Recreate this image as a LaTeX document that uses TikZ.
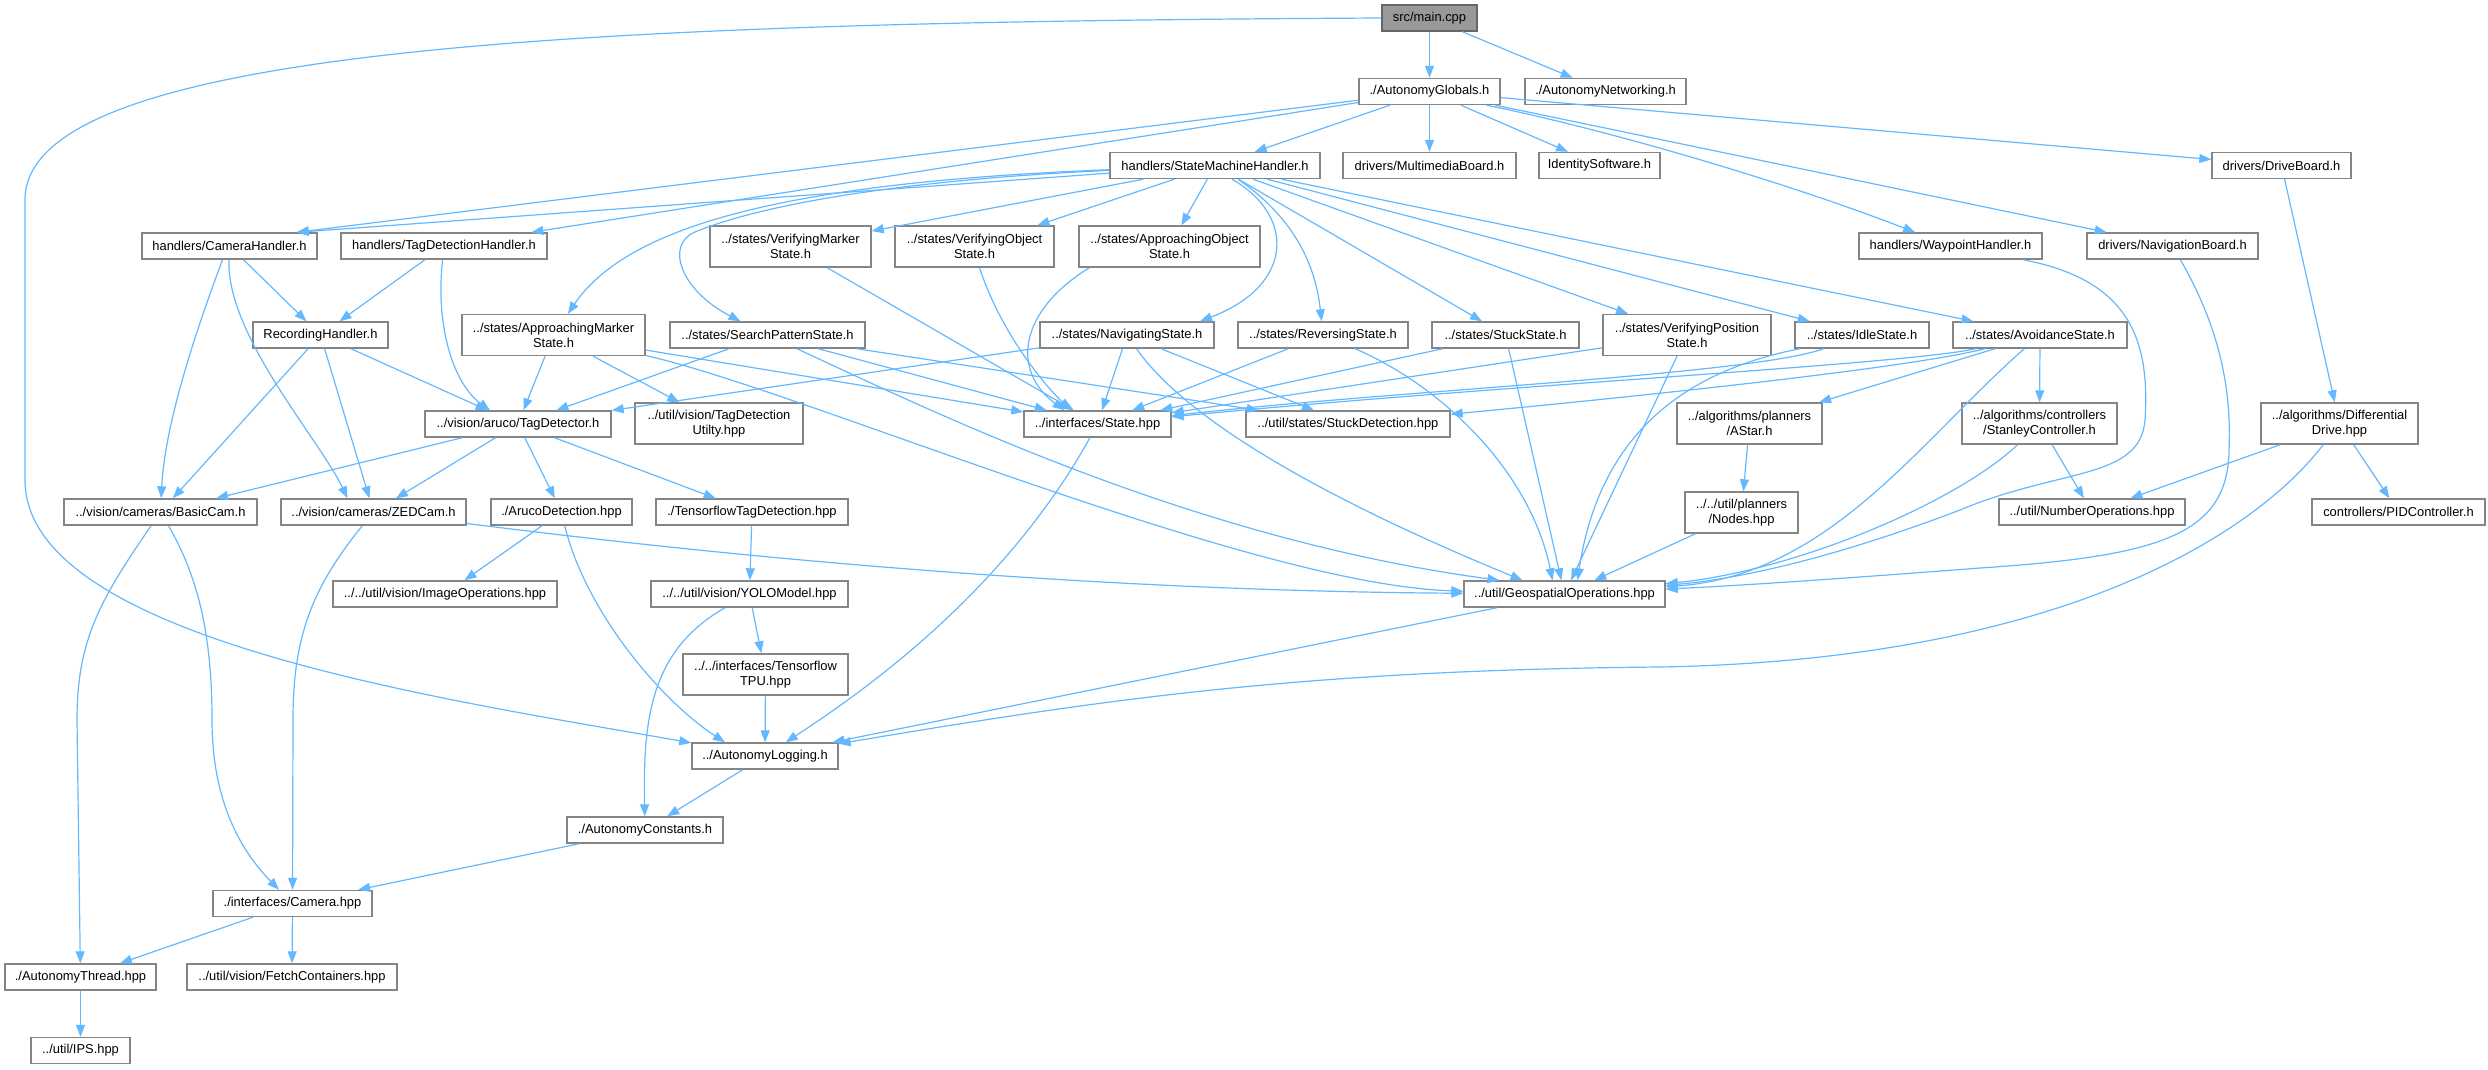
\documentclass[tikz,border=0pt]{standalone}
\usepackage{fontspec}
\setmainfont{Liberation Sans}
\usetikzlibrary{arrows.meta}
\definecolor{edgeblue}{HTML}{63B8FF}
\definecolor{boxgray}{HTML}{858585}
\definecolor{rootfill}{HTML}{999999}
\definecolor{rootline}{HTML}{666666}
\begin{document}
\begin{tikzpicture}[x=1pt,y=-1pt,
    filebox/.style={draw=boxgray,line width=1.4pt,fill=white,inner sep=0pt,minimum height=26pt,align=center,font=\fontsize{12.9pt}{15pt}\selectfont},
    twoline/.style={filebox,minimum height=41pt},
    rootbox/.style={filebox,fill=rootfill,draw=rootline},
    incl/.style={draw=edgeblue,line width=1.2pt,-{Triangle[length=12pt,width=9pt]}}]
        \useasboundingbox (0,0) rectangle (2488,1069);
        \node[rootbox,minimum width=95pt] (main) at (1429.5,18) {src/main.cpp};
        \node[filebox,minimum width=141pt] (glob) at (1429.5,91.5) {./AutonomyGlobals.h};
        \node[filebox,minimum width=161pt] (netw) at (1605.5,91.5) {./AutonomyNetworking.h};
        \node[filebox,minimum width=210pt] (smh) at (1215,165.5) {handlers/StateMachineHandler.h};
        \node[filebox,minimum width=173pt] (mmb) at (1429.5,165.5) {drivers/MultimediaBoard.h};
        \node[filebox,minimum width=121pt] (ids) at (1599.5,165.5) {IdentitySoftware.h};
        \node[filebox,minimum width=139pt] (drvb) at (2281.5,165.5) {drivers/DriveBoard.h};
        \node[filebox,minimum width=175pt] (camh) at (229.5,246) {handlers/CameraHandler.h};
        \node[filebox,minimum width=206pt] (tagh) at (444,246) {handlers/TagDetectionHandler.h};
        \node[twoline,minimum width=161pt] (vmark) at (790.5,246.5) {../states/VerifyingMarker\\State.h};
        \node[twoline,minimum width=159pt] (vobj) at (974.5,246.5) {../states/VerifyingObject\\State.h};
        \node[twoline,minimum width=181pt] (aobj) at (1169.5,246.5) {../states/ApproachingObject\\State.h};
        \node[filebox,minimum width=183pt] (wayh) at (1950.5,246) {handlers/WaypointHandler.h};
        \node[filebox,minimum width=171pt] (navb) at (2172.5,246) {drivers/NavigationBoard.h};
        \node[filebox,minimum width=135pt] (rech) at (320.5,335) {RecordingHandler.h};
        \node[twoline,minimum width=183pt] (amark) at (553.5,335) {../states/ApproachingMarker\\State.h};
        \node[filebox,minimum width=195pt] (srch) at (767.5,335) {../states/SearchPatternState.h};
        \node[filebox,minimum width=174pt] (navs) at (1127,335) {../states/NavigatingState.h};
        \node[filebox,minimum width=170pt] (revs) at (1323,335) {../states/ReversingState.h};
        \node[filebox,minimum width=147pt] (stks) at (1505.5,335) {../states/StuckState.h};
        \node[twoline,minimum width=168pt] (vpos) at (1687,335) {../states/VerifyingPosition\\State.h};
        \node[filebox,minimum width=134pt] (idle) at (1862,335) {../states/IdleState.h};
        \node[filebox,minimum width=174pt] (avoid) at (2040,335) {../states/AvoidanceState.h};
        \node[filebox,minimum width=186pt] (tagd) at (518,424) {../vision/aruco/TagDetector.h};
        \node[twoline,minimum width=168pt] (tdu) at (719,423.5) {../util/vision/TagDetection\\Utilty.hpp};
        \node[filebox,minimum width=147pt] (state) at (1097.5,424) {../interfaces/State.hpp};
        \node[filebox,minimum width=204pt] (stkd) at (1348,424) {../util/states/StuckDetection.hpp};
        \node[twoline,minimum width=145pt] (astar) at (1749.5,423.5) {../algorithms/planners\\/AStar.h};
        \node[twoline,minimum width=155pt] (stan) at (2039.5,423.5) {../algorithms/controllers\\/StanleyController.h};
        \node[twoline,minimum width=157pt] (diff) at (2339.5,423.5) {../algorithms/Differential\\Drive.hpp};
        \node[filebox,minimum width=193pt] (bcam) at (160.5,512) {../vision/cameras/BasicCam.h};
        \node[filebox,minimum width=185pt] (zcam) at (373.5,512) {../vision/cameras/ZEDCam.h};
        \node[filebox,minimum width=141pt] (aruco) at (561.5,512) {./ArucoDetection.hpp};
        \node[filebox,minimum width=192pt] (tftd) at (752,512) {./TensorflowTagDetection.hpp};
        \node[twoline,minimum width=113pt] (nodes) at (1741.5,512.5) {../../util/planners\\/Nodes.hpp};
        \node[filebox,minimum width=186pt] (numo) at (2092,512) {../util/NumberOperations.hpp};
        \node[filebox,minimum width=173pt] (pid) at (2398.5,512) {controllers/PIDController.h};
        \node[filebox,minimum width=224pt] (imgo) at (445,594) {../../util/vision/ImageOperations.hpp};
        \node[filebox,minimum width=197pt] (yolo) at (749.5,594) {../../util/vision/YOLOModel.hpp};
        \node[filebox,minimum width=201pt] (geo) at (1564.5,594) {../util/GeospatialOperations.hpp};
        \node[twoline,minimum width=165pt] (tpu) at (765.5,674.5) {../../interfaces/Tensorflow\\TPU.hpp};
        \node[filebox,minimum width=146pt] (alog) at (765,756) {../AutonomyLogging.h};
        \node[filebox,minimum width=156pt] (acon) at (645,830) {./AutonomyConstants.h};
        \node[filebox,minimum width=159pt] (cam) at (292.5,903.5) {./interfaces/Camera.hpp};
        \node[filebox,minimum width=151pt] (athr) at (80.5,977) {./AutonomyThread.hpp};
        \node[filebox,minimum width=210pt] (fetch) at (292,977) {../util/vision/FetchContainers.hpp};
        \node[filebox,minimum width=99pt] (ips) at (80.5,1050.5) {../util/IPS.hpp};
        \draw[incl] (main) -- (glob);
        \draw[incl] (main) -- (netw);
        \draw[incl] (main.west) .. controls (600,22) and (25,45) .. (25,200) -- (25,480) .. controls (25,640) and (450,700) .. (alog);
        \draw[incl] (glob) -- (smh);
        \draw[incl] (glob) -- (mmb);
        \draw[incl] (glob) -- (ids);
        \draw[incl] (glob) -- (drvb);
        \draw[incl] ([xshift=57pt]glob.south) .. controls (1600,128) and (1780,180) .. (wayh);
        \draw[incl] (glob) -- (navb);
        \draw[incl] (glob) -- ([xshift=-21pt]camh.north east);
        \draw[incl] (glob) -- (tagh);
        \draw[incl] (smh) -- ([xshift=-21pt]camh.north east);
        \draw[incl] (smh) .. controls (800,182) and (630,222) .. (amark);
        \draw[incl] (smh) .. controls (900,180) and (760,205) .. (695,232) .. controls (665,244.5) and (680,290) .. ([xshift=-27pt]srch.north);
        \draw[incl] (smh) -- (vmark);
        \draw[incl] (smh) -- (vobj);
        \draw[incl] (smh) -- (aobj);
        \draw[incl] ([xshift=17pt]smh.south) .. controls (1295,215) and (1295,285) .. ([xshift=73pt]navs.north);
        \draw[incl] ([xshift=23pt]smh.south) .. controls (1290,215) and (1315,260) .. (revs);
        \draw[incl] (smh) -- (stks);
        \draw[incl] (smh) -- (vpos);
        \draw[incl] (smh) -- (idle);
        \draw[incl] (smh) -- (avoid);
        \draw[incl] (camh) -- (rech);
        \draw[incl] ([xshift=-7pt]camh.south) .. controls (200,320) and (165,420) .. (bcam);
        \draw[incl] (camh) .. controls (226,335) and (320,440) .. ([xshift=-26pt]zcam.north);
        \draw[incl] (tagh) -- (rech);
        \draw[incl] (tagh) .. controls (435,330) and (455,385) .. ([xshift=-28pt]tagd.north);
        \draw[incl] (rech) -- (bcam);
        \draw[incl] (rech) -- (zcam);
        \draw[incl] (rech) -- (tagd);
        \draw[incl] (amark) -- (tagd);
        \draw[incl] (amark) -- (tdu);
        \draw[incl] (amark) -- (state);
        \draw[incl] (amark) .. controls (800,390) and (1250,585) .. (geo);
        \draw[incl] (srch) -- (tagd);
        \draw[incl] (srch) -- (state);
        \draw[incl] (srch) -- (stkd);
        \draw[incl] (srch) .. controls (950,420) and (1200,540) .. ([xshift=-65pt]geo.north);
        \draw[incl] (vmark) -- (state);
        \draw[incl] ([xshift=5pt]vobj.south) .. controls (1000,330) and (1040,380) .. ([xshift=-27pt]state.north);
        \draw[incl] ([xshift=-80pt]aobj.south) .. controls (1020,310) and (1010,370) .. ([xshift=-33pt]state.north);
        \draw[incl] (navs) -- (tagd);
        \draw[incl] (navs) -- (state);
        \draw[incl] (navs) -- (stkd);
        \draw[incl] (navs) .. controls (1200,440) and (1400,530) .. ([xshift=-42pt]geo.north);
        \draw[incl] (revs) -- (state);
        \draw[incl] (revs) .. controls (1440,385) and (1530,470) .. ([xshift=-12pt]geo.north);
        \draw[incl] (stks) -- (state);
        \draw[incl] (stks) -- (geo);
        \draw[incl] (vpos) -- (state);
        \draw[incl] (vpos) -- (geo);
        \draw[incl] (idle) .. controls (1750,375) and (1400,390) .. (state);
        \draw[incl] ([xshift=-62pt]idle.south) .. controls (1690,370) and (1600,430) .. ([xshift=13pt]geo.north);
        \draw[incl] (avoid) .. controls (1900,365) and (1500,385) .. (state);
        \draw[incl] (avoid) .. controls (1900,370) and (1600,400) .. (stkd);
        \draw[incl] (avoid) -- (astar);
        \draw[incl] (avoid) -- (stan);
        \draw[incl] (avoid) .. controls (1920,440) and (1830,575) .. (geo);
        \draw[incl] (wayh) .. controls (2130,280) and (2150,340) .. (2145,420) .. controls (2140,480) and (2060,468) .. (1960,510) .. controls (1850,552) and (1750,578) .. (geo);
        \draw[incl] (navb) .. controls (2215,320) and (2232,380) .. (2229,450) .. controls (2228,535) and (2160,556) .. (1980,568) .. controls (1850,578) and (1750,585) .. (geo);
        \draw[incl] (drvb) -- (diff);
        \draw[incl] (astar) -- (nodes);
        \draw[incl] (nodes) -- (geo);
        \draw[incl] (stan) .. controls (1960,500) and (1800,570) .. (geo);
        \draw[incl] (stan) -- (numo);
        \draw[incl] (diff) -- (numo);
        \draw[incl] (diff) -- (pid);
        \draw[incl] (diff) .. controls (2250,540) and (2050,660) .. (1660,667) .. controls (1300,670) and (1100,700) .. (alog);
        \draw[incl] (tagd) -- (bcam);
        \draw[incl] (tagd) -- (zcam);
        \draw[incl] (tagd) -- (aruco);
        \draw[incl] (tagd) -- (tftd);
        \draw[incl] (aruco) -- (imgo);
        \draw[incl] (aruco) .. controls (585,610) and (660,700) .. ([xshift=-40pt]alog.north);
        \draw[incl] (tftd) -- (yolo);
        \draw[incl] (yolo) -- (tpu);
        \draw[incl] (yolo) .. controls (650,650) and (643,720) .. (acon);
        \draw[incl] (tpu) -- (alog);
        \draw[incl] (state) .. controls (1000,600) and (850,700) .. (alog);
        \draw[incl] (geo) -- (alog);
        \draw[incl] (zcam) .. controls (600,540) and (1000,590) .. (geo);
        \draw[incl] (zcam) .. controls (310,590) and (293,640) .. (293,720) -- (cam);
        \draw[incl] (bcam) .. controls (200,580) and (212,640) .. (212,720) .. controls (212,800) and (240,850) .. (cam);
        \draw[incl] (bcam) .. controls (100,600) and (77,640) .. (77,720) -- (athr);
        \draw[incl] (alog) -- (acon);
        \draw[incl] (acon) -- (cam);
        \draw[incl] (cam) -- (athr);
        \draw[incl] (cam) -- (fetch);
        \draw[incl] (athr) -- (ips);
    \end{tikzpicture}
\end{document}
